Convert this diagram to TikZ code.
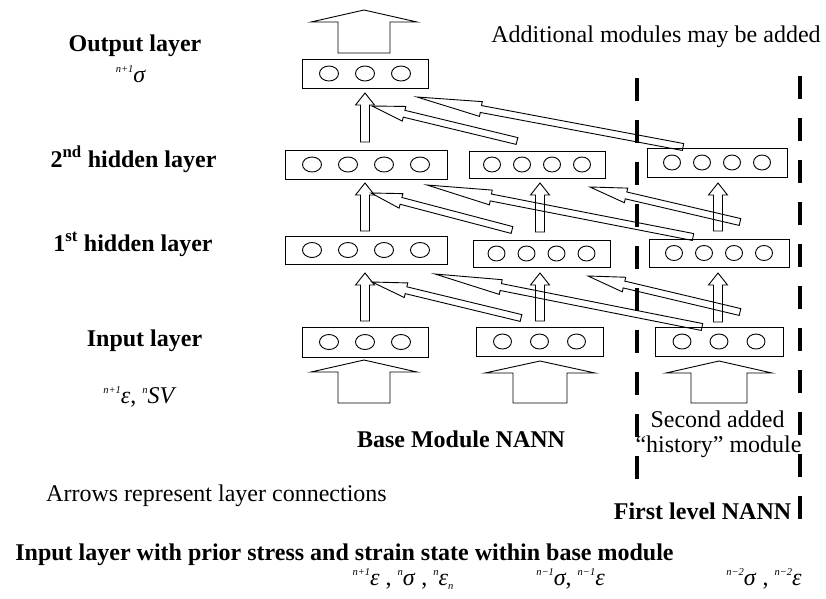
\documentclass[tikz,border=0pt]{standalone}
\usepackage{fontspec}
\setmainfont{Liberation Serif}
\usetikzlibrary{calc,shapes.geometric}

\newcommand{\pres}[1]{\raisebox{9.5pt}{\fontsize{10.5}{10.5}\selectfont\itshape #1}}
\newcommand{\subs}[1]{\raisebox{-4pt}{\fontsize{10.5}{10.5}\selectfont\itshape #1}}

% layer box: name, cx, cy, width, height, n cells, spacing, cell w, cell h
\newcommand{\layerbox}[9]{%
  \node[lbox, minimum width=#4pt, minimum height=#5pt] (#1) at (#2,#3) {};
  \foreach \i in {1,...,#6}{
    \node[cell, minimum width=#8pt, minimum height=#9pt] (#1-\i) at ($(#1.center)+({(\i-(#6+1)/2)*#7},0)$) {};
  }%
}
% block arrow: name, tail, tip, head length, head half width, shaft half width
\newcommand{\blkarrow}[6]{%
  \coordinate (#1-h) at ($(#3)!#4!(#2)$);
  \draw[blk] (#3) -- ($(#1-h)!#5!90:(#2)$) -- ($(#1-h)!#6!90:(#2)$)
    -- ($(#2)!#6!-90:(#3)$) -- ($(#2)!#6!90:(#3)$)
    -- ($(#1-h)!#6!-90:(#2)$) -- ($(#1-h)!#5!-90:(#2)$) -- cycle;
}

\tikzset{
  lbox/.style={draw, line width=1pt, inner sep=0pt},
  cell/.style={draw, ellipse, line width=0.9pt, inner sep=0pt},
  blk/.style={draw, line width=0.9pt, line join=miter},
  sepline/.style={line width=4.2pt, dash pattern=on 23pt off 19pt},
  lab/.style={font=\bfseries\fontsize{24}{28}\selectfont, anchor=base, inner sep=0pt},
  txt/.style={font=\fontsize{24}{28}\selectfont, anchor=base, inner sep=0pt},
}

\begin{document}
\begin{tikzpicture}[x=1pt,y=-1pt]
\useasboundingbox (0,0) rectangle (826,598);

% layer boxes
\layerbox{out}{365}{73.5}{126}{29}{3}{36}{19}{15}
\layerbox{h2a}{366}{164.5}{162}{29}{4}{36}{19}{15}
\layerbox{h1a}{366}{250}{162}{28}{4}{36}{19}{15}
\layerbox{ina}{365}{342}{126}{30}{3}{36}{19}{15}
\layerbox{h2b}{537}{164.5}{136}{27}{4}{30}{17}{15}
\layerbox{h1b}{541.5}{253.5}{137}{27}{4}{30}{17}{15}
\layerbox{inb}{539.5}{341.5}{127}{29}{3}{37}{18}{15}
\layerbox{h2c}{717}{162.5}{140}{29}{4}{30}{17}{15}
\layerbox{h1c}{719}{253}{140}{28}{4}{30}{17}{15}
\layerbox{inc}{719}{341.5}{128}{29}{3}{37}{18}{15}

% big input / output arrows
\coordinate (bo-t) at (364,53);  \coordinate (bo-h) at (364,10);
\coordinate (ba-t) at (364,403); \coordinate (ba-h) at (364,360);
\coordinate (bb-t) at (540,403); \coordinate (bb-h) at (540,361);
\coordinate (bc-t) at (719,403); \coordinate (bc-h) at (719,361);
\blkarrow{BO}{bo-t}{bo-h}{12pt}{53pt}{26pt}
\blkarrow{BA}{ba-t}{ba-h}{12pt}{53pt}{26pt}
\blkarrow{BB}{bb-t}{bb-h}{12pt}{55pt}{27pt}
\blkarrow{BC}{bc-t}{bc-h}{12pt}{53pt}{28pt}

% small vertical arrows
\coordinate (va1-t) at (365,142); \coordinate (va1-h) at (365,93);
\coordinate (va2-t) at (365,231); \coordinate (va2-h) at (365,183);
\coordinate (va3-t) at (365,321); \coordinate (va3-h) at (365,273);
\coordinate (vb2-t) at (540,232); \coordinate (vb2-h) at (540,183);
\coordinate (vb3-t) at (540,321); \coordinate (vb3-h) at (540,273);
\coordinate (vc2-t) at (718,231); \coordinate (vc2-h) at (718,183);
\coordinate (vc3-t) at (718,322); \coordinate (vc3-h) at (718,273);
\foreach \v in {va1,va2,va3,vb2,vb3,vc2,vc3}{
  \blkarrow{\v A}{\v-t}{\v-h}{12pt}{9.5pt}{4.5pt}
}

% slanted connection arrows
\coordinate (s1-t) at (517,141); \coordinate (s1-h) at (372,106);
\coordinate (s2-t) at (683,147); \coordinate (s2-h) at (417,97);
\coordinate (s3-t) at (512,230); \coordinate (s3-h) at (371,193);
\coordinate (s4-t) at (693,237); \coordinate (s4-h) at (427,185);
\coordinate (s5-t) at (740,222); \coordinate (s5-h) at (590,187);
\coordinate (s6-t) at (521,318); \coordinate (s6-h) at (372,282);
\coordinate (s7-t) at (702,327); \coordinate (s7-h) at (435,274);
\coordinate (s8-t) at (740,312); \coordinate (s8-h) at (588,276);
\blkarrow{S1}{s1-t}{s1-h}{33pt}{7.5pt}{3.5pt}
\blkarrow{S2}{s2-t}{s2-h}{65pt}{7.5pt}{3.5pt}
\blkarrow{S3}{s3-t}{s3-h}{31pt}{7.5pt}{3.5pt}
\blkarrow{S4}{s4-t}{s4-h}{65pt}{7.5pt}{3.5pt}
\blkarrow{S5}{s5-t}{s5-h}{37pt}{7.5pt}{3.5pt}
\blkarrow{S6}{s6-t}{s6-h}{35pt}{7.5pt}{3.5pt}
\blkarrow{S7}{s7-t}{s7-h}{67pt}{7.5pt}{3.5pt}
\blkarrow{S8}{s8-t}{s8-h}{37pt}{7.5pt}{3.5pt}

% dashed module separators
\coordinate (dl-a) at (637,78);  \coordinate (dl-b) at (637,483);
\coordinate (dr-a) at (800,76);  \coordinate (dr-b) at (800,523);
\draw[sepline] (dl-a) -- (dl-b);
\draw[sepline] (dr-a) -- (dr-b);

% left labels
\node[lab] (tout) at (135,51) {Output layer};
\node[txt] (tsig) at (131,82) {\pres{n+1}\textit{σ}};
\node[lab] (th2) at (133.5,167) {2\textsuperscript{nd} hidden layer};
\node[lab] (th1) at (133,251) {1\textsuperscript{st} hidden layer};
\node[lab] (tin) at (144.5,346) {Input layer};
\node[txt] (tsv) at (140,403) {\pres{n+1}\textit{ε}, \pres{n}\textit{SV}};

% other texts
\node[txt] (tadd) at (656,42) {Additional modules may be added};
\node[lab] (tbase) at (461,447) {Base Module NANN};
\node[txt] (tsec) at (717.5,427) {Second added};
\node[txt] (thist) at (718.5,452) {“history” module};
\node[txt] (tarr) at (216.5,501) {Arrows represent layer connections};
\node[lab] (tfirst) at (702.5,519) {First level NANN};
\node[lab] (tprior) at (344.5,560) {Input layer with prior stress and strain state within base module};
\node[txt] (tf1) at (403,585) {\pres{n+1}\textit{ε} , \pres{n}\textit{σ} , \pres{n}\textit{ε}\subs{n}};
\node[txt] (tf2) at (570.5,585) {\pres{n−1}\textit{σ}, \pres{n−1}\textit{ε}};
\node[txt] (tf3) at (764,585) {\pres{n−2}\textit{σ} , \pres{n−2}\textit{ε}};
\end{tikzpicture}
\end{document}
